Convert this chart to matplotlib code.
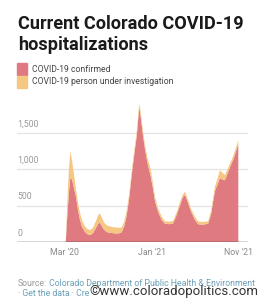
import matplotlib
matplotlib.use("Agg")
import matplotlib.pyplot as plt
import matplotlib.dates as mdates
import numpy as np

# data (patients currently hospitalized)
dates = [
    "2020-03-04", "2020-03-09", "2020-03-15", "2020-03-20", "2020-03-26",
    "2020-04-02", "2020-04-09", "2020-04-16", "2020-04-23", "2020-04-30",
    "2020-05-10", "2020-05-20", "2020-05-30", "2020-06-08", "2020-06-18",
    "2020-06-26", "2020-07-02", "2020-07-09", "2020-07-17", "2020-07-27",
    "2020-08-10", "2020-08-25", "2020-09-08", "2020-09-16", "2020-09-25",
    "2020-10-03", "2020-10-12", "2020-10-21", "2020-10-30", "2020-11-08",
    "2020-11-14", "2020-11-17", "2020-11-22", "2020-11-29", "2020-12-07",
    "2020-12-16", "2020-12-27", "2021-01-05", "2021-01-11", "2021-01-22",
    "2021-02-04", "2021-02-15", "2021-02-28", "2021-03-15", "2021-03-27",
    "2021-04-08", "2021-04-18", "2021-04-26", "2021-05-05", "2021-05-17",
    "2021-05-31", "2021-06-11", "2021-06-25", "2021-07-16", "2021-07-26",
    "2021-08-09", "2021-08-27", "2021-09-05", "2021-09-13", "2021-09-22",
    "2021-10-01", "2021-10-12", "2021-10-22", "2021-10-30",
]
confirmed = [
    0, 330, 680, 880, 860, 740, 620, 440, 300, 210,
    140, 105, 96, 125, 195, 255, 265, 215, 165, 135,
    125, 118, 120, 135, 215, 350, 590, 910, 1200, 1460,
    1740, 1850, 1720, 1490, 1270, 1080, 900, 710, 560, 410,
    300, 250, 245, 255, 360, 500, 610, 650, 560, 420,
    305, 245, 238, 250, 370, 700, 880, 860, 850, 940,
    1030, 1130, 1250, 1350,
]
pui = [
    0, 190, 320, 365, 260, 190, 95, 100, 100, 90,
    75, 70, 69, 75, 95, 115, 130, 115, 100, 90,
    85, 82, 75, 65, 65, 67, 60, 57, 60, 60,
    60, 57, 60, 60, 64, 70, 100, 70, 60, 50,
    45, 35, 35, 35, 40, 40, 40, 42, 40, 40,
    43, 40, 37, 35, 50, 60, 110, 90, 70, 60,
    53, 50, 50, 50,
]
y_ticks = [0, 500, 1000, 1500]
x_ticks = ["2020-03-01", "2021-01-01", "2021-11-01"]
x_labels = ["Mar '20", "Jan '21", "Nov '21"]

red = "#de7a80"
orange = "#f6c683"

plt.rcParams["font.family"] = ["Roboto", "DejaVu Sans"]

fig = plt.figure(figsize=(2.65, 3.01), dpi=100, facecolor="white")
W, H = 265, 301

# plot area in pixels: x 17..248, y 100..242
ax = fig.add_axes([17 / W, (H - 242) / H, 231 / W, 142 / H])
d = np.array(dates, dtype="datetime64[D]")
ax.stackplot(d, confirmed, pui, colors=[red, orange], linewidth=0)

x0 = np.datetime64("2020-03-01")
ax.set_xlim(mdates.date2num(x0 - np.timedelta64(168, "D")),
            mdates.date2num(x0 + np.timedelta64(642, "D")))
ax.set_ylim(0, 1955)

for v in y_ticks[1:]:
    ax.axhline(v, color="#e4e4e4", lw=0.9, zorder=0)
ax.axhline(0, color="#333333", lw=1.0, zorder=3)
for v in y_ticks:
    ax.text(0, v + 60, f"{v:,}", transform=ax.get_yaxis_transform(),
            ha="left", va="bottom", fontsize=6.3, color="#9a9a9a")

ax.set_xticks(np.array(x_ticks, dtype="datetime64[D]"))
ax.set_xticklabels(x_labels, fontsize=6.3, color="#8a8a8a")
ax.tick_params(axis="x", length=0, pad=4)
ax.set_yticks([])
for s in ax.spines.values():
    s.set_visible(False)
ax.set_facecolor("none")

# title
fig.text(18 / W, 1 - 24 / H, "Current Colorado COVID-19", fontsize=13.1,
         fontweight="bold", color="#1a1a1a", va="center", ha="left")
fig.text(18 / W, 1 - 45 / H, "hospitalizations", fontsize=13.1,
         fontweight="bold", color="#1a1a1a", va="center", ha="left")

# legend
for i, (c, lab) in enumerate([(red, "COVID-19 confirmed"),
                              (orange, "COVID-19 person under investigation")]):
    yc = 69 + i * 13
    fig.patches.append(plt.Rectangle((17 / W, 1 - (yc + 6) / H), 10 / W, 12 / H,
                                     transform=fig.transFigure, color=c))
    fig.text(32 / W, 1 - yc / H, lab, fontsize=6.2, color="#444444",
             va="center", ha="left")

# footer
src = fig.text(18 / W, 1 - 284 / H, "Source:", fontsize=6.3, color="#999999",
               va="center", ha="left")
ax.annotate(" Colorado Department of Public Health & Environment",
            xy=(1, 0.5), xycoords=src, va="center", ha="left",
            fontsize=6.3, color="#6aa0b8", annotation_clip=False)
fig.text(18 / W, 1 - 293 / H, "\u00b7 Get the data \u00b7 Cre", fontsize=6.3,
         color="#6aa0b8", va="center", ha="left")
fig.text(258 / W, 1 - 291 / H, "\u00a9www.coloradopolitics.com", fontsize=9.5,
         color="#333333", va="center", ha="right")

fig.savefig("out.png", dpi=100, facecolor="white")
